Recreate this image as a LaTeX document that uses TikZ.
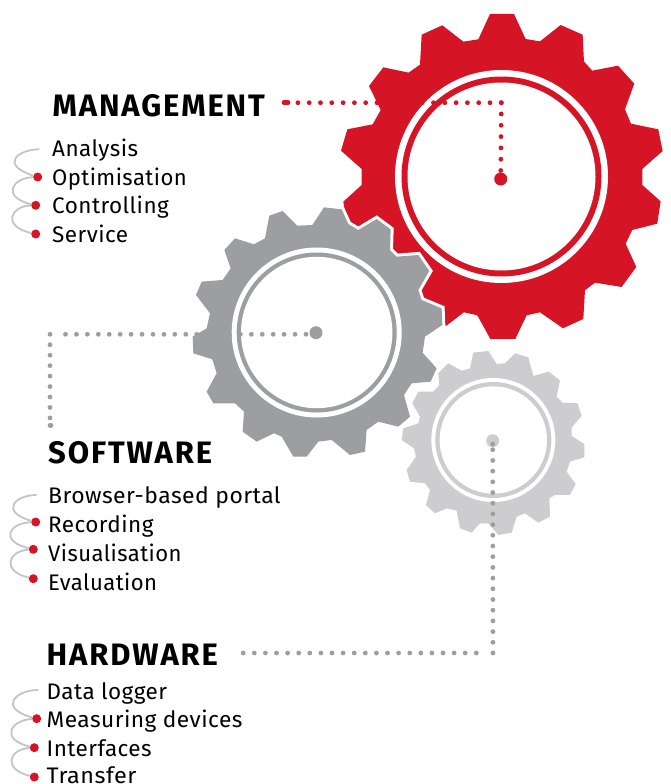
\documentclass[tikz,border=0pt]{standalone}
\usepackage{fontspec}
\setmainfont{Fira Sans}
\newfontfamily\headfont[LetterSpace=6,BoldFont={Fira Sans Bold}]{Fira Sans}
\newfontfamily\itemfont[LetterSpace=2]{Fira Sans}
\definecolor{cred}{HTML}{D51426}
\definecolor{cgray}{HTML}{9D9EA2}
\definecolor{clight}{HTML}{CDCCCE}
\definecolor{ccurl}{HTML}{C4C4C6}
\begin{document}
\begin{tikzpicture}[x=1pt,y=-1pt,
  head/.style={anchor=base west,inner sep=0pt,font=\headfont\fontsize{31}{31}\selectfont\bfseries,text=black},
  item/.style={anchor=base west,inner sep=0pt,font=\itemfont\fontsize{22.5}{23}\selectfont,text=black},
  hub/.style={circle,inner sep=0pt,minimum size=13pt,fill=#1},
  bullet/.style={circle,inner sep=0pt,minimum size=9pt,fill=cred},
  curl/.style={draw=ccurl,line width=1.8pt},
  gearfill/.style={fill=#1,line join=miter,preaction={draw=white,line width=6pt}},
  dots/.style={draw=#1,line width=4.8pt,line cap=round,dash pattern=on 0pt off 11pt}]
\useasboundingbox (0,0) rectangle (670,784);
% red gear
\begin{scope}[shift={(330,0)},x=0.3333pt,y=-0.3333pt]
\fill[cred] (480,42)--(552,42)--(587,117)--(630,124)--(692,75)--(758,104)--(762,185)--(787,212)--(864,197)--(913,251)--(885,328)--(903,371)--(985,388)--(998,453)--(937,507)--(937,555)--(992,604)--(982,671)--(907,690)--(887,731)--(919,801)--(875,861)--(795,848)--(765,871)--(760,957)--(699,985)--(630,937)--(590,946)--(556,1017)--(481,1017)--(442,946)--(402,937)--(348,978)--(290,915)--(210,895)--(150,830)--(80,720)--(50,670)--(40,605)--(95,555)--(95,507)--(33,452)--(52,388)--(128,373)--(152,330)--(117,258)--(160,202)--(236,218)--(270,194)--(275,104)--(337,76)--(400,125)--(445,118)--cycle;
\end{scope}
\fill[white] (501.5,176.5) circle (106.5);
\fill[cred] (501.5,176.5) circle (100);
\fill[white] (501.5,176.5) circle (94);
% gray gear
\begin{scope}[shift={(180,200)},x=0.3333pt,y=-0.3333pt]
\path[gearfill=cgray] (133,150)--(165,115)--(222,133)--(255,115)--(268,47)--(308,33)--(352,77)--(397,75)--(432,22)--(485,28)--(505,72)--(535,90)--(590,57)--(632,88)--(630,150)--(650,170)--(715,165)--(748,213)--(715,270)--(725,300)--(785,325)--(787,375)--(735,410)--(728,458)--(770,505)--(752,545)--(695,550)--(672,585)--(690,650)--(655,680)--(595,665)--(560,690)--(555,755)--(510,765)--(455,720)--(415,725)--(380,770)--(340,770)--(305,710)--(282,700)--(230,725)--(188,695)--(192,635)--(165,610)--(100,610)--(80,575)--(110,520)--(97,478)--(40,460)--(38,410)--(80,385)--(90,340)--(48,285)--(65,245)--(128,240)--(152,205)--cycle;
\end{scope}
\fill[white] (316.7,332.5) circle (85);
\fill[cgray] (316.7,332.5) circle (80);
\fill[white] (316.7,332.5) circle (75.7);
% light gear
\begin{scope}[shift={(390,340)},x=0.3333pt,y=-0.3333pt]
\path[gearfill=clight] (250,38)--(295,33)--(320,72)--(345,70)--(375,40)--(415,52)--(430,108)--(477,95)--(510,122)--(500,170)--(517,188)--(563,190)--(575,228)--(545,262)--(545,288)--(583,312)--(583,352)--(540,365)--(530,395)--(557,432)--(540,465)--(495,465)--(478,475)--(480,530)--(445,548)--(405,520)--(380,530)--(365,578)--(325,585)--(295,550)--(270,550)--(245,578)--(210,565)--(200,512)--(170,505)--(135,520)--(108,495)--(120,450)--(105,430)--(60,425)--(50,390)--(78,350)--(72,325)--(35,300)--(40,265)--(85,250)--(90,230)--(67,190)--(85,155)--(130,155)--(148,135)--(145,100)--(175,70)--(215,92)--(240,85)--cycle;
\end{scope}
\fill[white] (493.3,440) circle (62);
\fill[clight] (493.3,440) circle (58);
\fill[white] (493.3,440) circle (53.7);
% hubs
\node[hub=cred] (rhub) at (500.7,179) {};
\node[hub=cgray] (ghub) at (316,332.7) {};
\node[hub=clight] (lhub) at (492.7,440.7) {};
% text
\node[head] (mgmt) at (52.5,116.7) {MANAGEMENT};
\node[item] (m1) at (52,156) {Analysis};
\node[item] (m2) at (52,185) {\scalebox{0.98}[1]{Optimisation}};
\node[item] (m3) at (52,213.5) {Controlling};
\node[item] (m4) at (52,242.3) {Service};
\node[head] (soft) at (48,463.5) {SOFTWARE};
\node[item] (s1) at (48,503.5) {\scalebox{1.02}[1]{Browser-based portal}};
\node[item] (s2) at (48,532.7) {Recording};
\node[item] (s3) at (48,561) {\scalebox{0.98}[1]{Visualisation}};
\node[item] (s4) at (48,590) {\scalebox{0.98}[1]{Evaluation}};
\node[head] (hard) at (46.5,665) {HARDWARE};
\node[item] (h1) at (46.5,699.3) {Data logger};
\node[item] (h2) at (46.5,727.7) {\scalebox{1.01}[1]{Measuring devices}};
\node[item] (h3) at (46.5,756) {Interfaces};
\node[item] (h4) at (46.5,783.4) {\scalebox{1.04}[1]{Transfer}};
% connectors
\coordinate (rc) at (501.3,102.7);
\coordinate (rend) at (288,102.7);
\coordinate (rtip) at (284,102.7);
\draw[dots=cred,dash pattern=on 0pt off 11.3pt] (rc) -- (rend);
\draw[dots=cred,dash pattern=on 0pt off 11.3pt] (rc) -- (rhub);
\draw[draw=cred,line width=4.8pt,line cap=round] (rend) -- (rtip);
\coordinate (gc) at (50,334.3);
\coordinate (gh) at (65,334.3);
\coordinate (gstart) at (306,334.3);
\coordinate (gend) at (50,418);
\coordinate (gtip) at (50,425.2);
\coordinate (gtipb) at (51,425.2);
\draw[dots=cgray,dash pattern=on 0pt off 10.93pt] (gstart) -- (gh);
\draw[dots=cgray,dash pattern=on 0pt off 10.45pt] (gc) -- (gend);
\draw[draw=cgray,line width=4.8pt,line cap=round] (gtip) -- (gtipb);
\coordinate (lc) at (493,653);
\coordinate (lh) at (476.3,653);
\coordinate (lend) at (243,653);
\coordinate (ltop) at (492.7,444);
\draw[dots=cgray,dash pattern=on 0pt off 10.7pt] (lc) -- (lhub.center);
\fill[cgray] (ltop) circle (2.4);
\draw[dots=cgray,dash pattern=on 0pt off 11.1pt] (lh) -- (lend);
% bullets
\node[bullet] (mb2) at (37.7,177) {};
\node[bullet] (mb3) at (35.7,205.3) {};
\node[bullet] (mb4) at (35.7,234) {};
\node[bullet] (sb2) at (35.7,522) {};
\node[bullet] (sb3) at (33.3,549.3) {};
\node[bullet] (sb4) at (33.3,578.7) {};
\node[bullet] (hb2) at (36.7,718.7) {};
\node[bullet] (hb3) at (34.3,747.7) {};
\node[bullet] (hb4) at (34.3,777) {};
\coordinate (mstart) at (39.3,149.3);
\coordinate (sstart) at (36.7,495);
\coordinate (hstart) at (38.3,690);
\draw[curl] (mstart) .. controls (17,149.5) and (0,165) .. (mb2);
\draw[curl] (mb2) .. controls (12,178) and (1,197) .. (mb3);
\draw[curl] (mb3) .. controls (11,206) and (1,226) .. (mb4);
\draw[curl] (sstart) .. controls (14,495) and (0,512) .. (sb2);
\draw[curl] (sb2) .. controls (9,523) and (-1,541) .. (sb3);
\draw[curl] (sb3) .. controls (8,551) and (1,571) .. (sb4);
\draw[curl] (hstart) .. controls (15,690) and (-2,708) .. (hb2);
\draw[curl] (hb2) .. controls (11,720) and (-1,739) .. (hb3);
\draw[curl] (hb3) .. controls (9,749) and (2,769) .. (hb4);
\end{tikzpicture}
\end{document}
